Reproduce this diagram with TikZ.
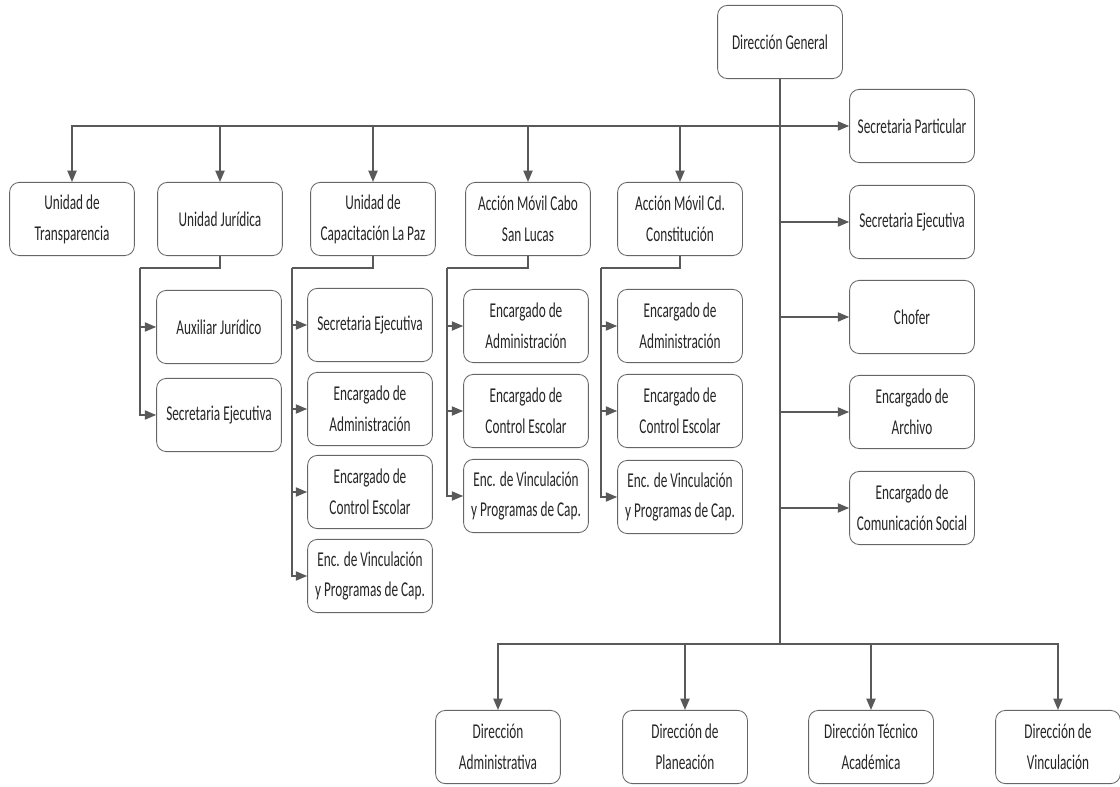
\documentclass[tikz,border=0pt]{standalone}
\usepackage{fontspec}
\setmainfont{Carlito}[FakeStretch=0.63]
\usetikzlibrary{arrows.meta}

\begin{document}
\begin{tikzpicture}[x=0.025cm, y=-0.025cm,
	box/.style={draw=black!60, line width=0.6pt, rounded corners=7pt, minimum width=3.12cm, minimum height=1.83cm, inner sep=1pt, align=center, text=black!85, font=\fontsize{15}{22}\selectfont},
	line/.style={draw=black!65, line width=1pt},
	arr/.style={line, -{Triangle[length=8pt, width=6.5pt]}}]
	\useasboundingbox (0,0) rectangle (1120,787);

	% cabeza y staff
	\node[box]	(dg)	at (780,42)		{Dirección General};
	\node[box]	(sp)	at (912,126)	{Secretaria Particular};
	\node[box]	(sej)	at (912,222)	{Secretaria Ejecutiva};
	\node[box]	(chof)	at (912,317)	{Chofer};
	\node[box]	(arch)	at (912,412)	{Encargado de\\Archivo};
	\node[box]	(com)	at (912,508)	{Encargado de\\Comunicación Social};

	% unidades
	\node[box]	(trans)	at (72,219)		{Unidad de\\Transparencia};
	\node[box]	(jur)	at (220,219)	{Unidad Jurídica};
	\node[box]	(cap)	at (373,219)	{Unidad de\\Capacitación La Paz};
	\node[box]	(cabo)	at (528,219)	{Acción Móvil Cabo\\San Lucas};
	\node[box]	(const)	at (680,219)	{Acción Móvil Cd.\\Constitución};

	\node[box]	(aux)	at (219,327)	{Auxiliar Jurídico};
	\node[box]	(jsej)	at (219,415)	{Secretaria Ejecutiva};

	\node[box]	(csej)	at (370,325)	{Secretaria Ejecutiva};
	\node[box]	(cadm)	at (370,409)	{Encargado de\\Administración};
	\node[box]	(cesc)	at (370,492)	{Encargado de\\Control Escolar};
	\node[box]	(cvin)	at (370,576)	{Enc. de Vinculación\\y Programas de Cap.};

	\node[box]	(badm)	at (526,326)	{Encargado de\\Administración};
	\node[box]	(besc)	at (526,411)	{Encargado de\\Control Escolar};
	\node[box]	(bvin)	at (526,496)	{Enc. de Vinculación\\y Programas de Cap.};

	\node[box]	(kadm)	at (680,326)	{Encargado de\\Administración};
	\node[box]	(kesc)	at (680,411)	{Encargado de\\Control Escolar};
	\node[box]	(kvin)	at (680,497)	{Enc. de Vinculación\\y Programas de Cap.};

	% direcciones
	\node[box]	(dadm)	at (498,747)	{Dirección\\Administrativa};
	\node[box]	(dpla)	at (685,747)	{Dirección de\\Planeación};
	\node[box]	(dtec)	at (871,747)	{Dirección Técnico\\Académica};
	\node[box]	(dvin)	at (1058,747)	{Dirección de\\Vinculación};

	\coordinate	(top)	at (780,126);
	\coordinate	(bot)	at (780,644);
	\coordinate	(jbus)	at (140,268);
	\coordinate	(cbus)	at (292,268);
	\coordinate	(bbus)	at (447,268);
	\coordinate	(kbus)	at (601,268);

	\draw[line]	(dg.south) -- (bot);

	\draw[arr]	(top) -| (trans.north);
	\draw[arr]	(top) -| (jur.north);
	\draw[arr]	(top) -| (cap.north);
	\draw[arr]	(top) -| (cabo.north);
	\draw[arr]	(top) -| (const.north);
	\draw[arr]	(top) -- (sp.west);

	\draw[arr]	(dg.south |- sej.west)	-- (sej.west);
	\draw[arr]	(dg.south |- chof.west)	-- (chof.west);
	\draw[arr]	(dg.south |- arch.west)	-- (arch.west);
	\draw[arr]	(dg.south |- com.west)	-- (com.west);

	\draw[line]	(jur.south) |- (jbus);
	\draw[arr]	(jbus) |- (aux.west);
	\draw[arr]	(jbus) |- (jsej.west);

	\draw[line]	(cap.south) |- (cbus);
	\draw[arr]	(cbus) |- (csej.west);
	\draw[arr]	(cbus) |- (cadm.west);
	\draw[arr]	(cbus) |- (cesc.west);
	\draw[arr]	(cbus) |- (cvin.west);

	\draw[line]	(cabo.south) |- (bbus);
	\draw[arr]	(bbus) |- (badm.west);
	\draw[arr]	(bbus) |- (besc.west);
	\draw[arr]	(bbus) |- (bvin.west);

	\draw[line]	(const.south) |- (kbus);
	\draw[arr]	(kbus) |- (kadm.west);
	\draw[arr]	(kbus) |- (kesc.west);
	\draw[arr]	(kbus) |- (kvin.west);

	\draw[arr]	(bot) -| (dadm.north);
	\draw[arr]	(bot) -| (dpla.north);
	\draw[arr]	(bot) -| (dtec.north);
	\draw[arr]	(bot) -| (dvin.north);
\end{tikzpicture}
\end{document}
